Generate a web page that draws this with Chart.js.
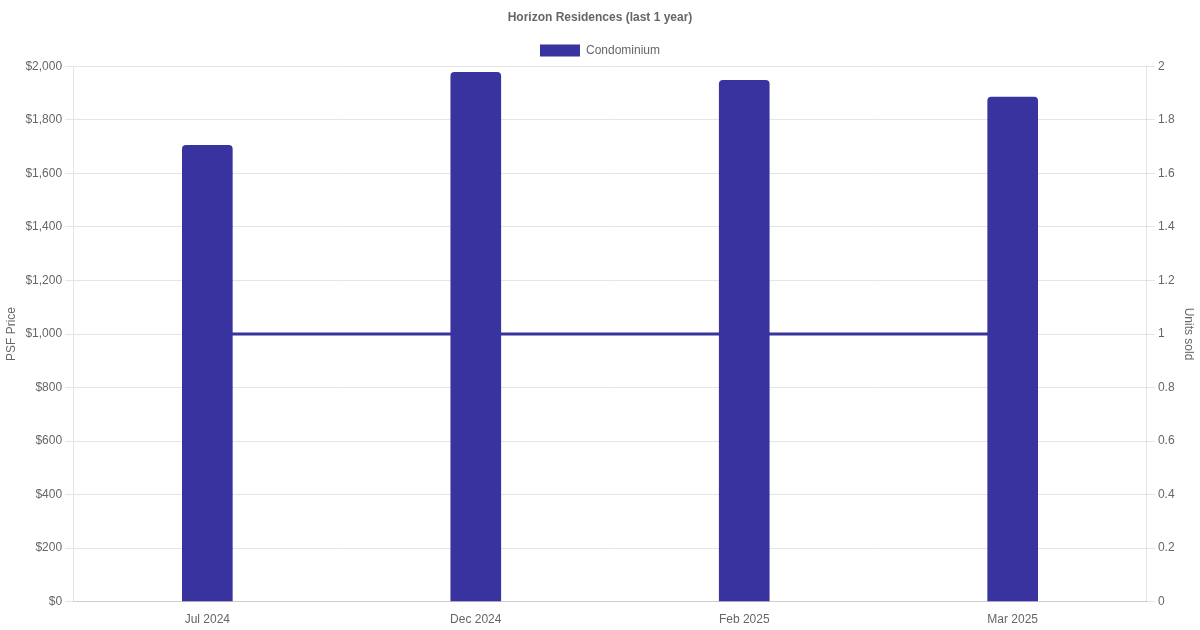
<!DOCTYPE html>
<html>
<head>
<meta charset="utf-8">
<script src="https://cdn.jsdelivr.net/npm/chart.js@4/dist/chart.umd.min.js"></script>
<style>
  html, body { margin: 0; padding: 0; background: #fff; }
  #wrap { width: 1200px; height: 630px; }
</style>
</head>
<body>
<div id="wrap"><canvas id="myChart"></canvas></div>
<script>
// chart data
const months = ['Jul 2024', 'Dec 2024', 'Feb 2025', 'Mar 2025']
const psfPrice = [1705, 1978, 1948, 1885]
const unitsSold = [1, 1, 1, 1]

const barColor = '#38339e'

Chart.defaults.font.family = "'Liberation Sans', Arial, sans-serif"
Chart.defaults.color = '#666'

const ctx = document.getElementById('myChart').getContext('2d')
const myChart = new Chart(ctx, {
    type: 'bar',
    data: {
        labels: months,
        datasets: [{
            label: 'Condominium',
            data: psfPrice,
            backgroundColor: barColor,
            borderColor: barColor,
            borderRadius: 4,
            barThickness: 50,
            yAxisID: 'y',
            order: 1
        }, {
            type: 'line',
            label: 'Units sold',
            data: unitsSold,
            borderColor: barColor,
            backgroundColor: barColor,
            borderWidth: 3,
            pointRadius: 0,
            yAxisID: 'y1',
            order: 2
        }]
    },
    options: {
        responsive: true,
        maintainAspectRatio: false,
        animation: false,
        plugins: {
            title: {
                display: true,
                text: 'Horizon Residences (last 1 year)',
                font: { size: 12, weight: 'bold' },
                padding: { top: 10, bottom: 10 }
            },
            legend: {
                labels: {
                    // only the bar series shows in the legend
                    filter: item => item.text === 'Condominium',
                    font: { size: 12 }
                }
            }
        },
        scales: {
            x: {
                grid: { display: false },
                ticks: { font: { size: 12 } }
            },
            y: {
                position: 'left',
                min: 0,
                max: 2000,
                ticks: {
                    stepSize: 200,
                    callback: v => '$' + v.toLocaleString('en-US')
                },
                title: { display: true, text: 'PSF Price' }
            },
            y1: {
                position: 'right',
                min: 0,
                max: 2,
                ticks: {
                    stepSize: 0.2,
                    callback: v => String(Math.round(v * 10) / 10)
                },
                grid: { drawOnChartArea: false },
                title: { display: true, text: 'Units sold' }
            }
        }
    }
})
</script>
</body>
</html>
